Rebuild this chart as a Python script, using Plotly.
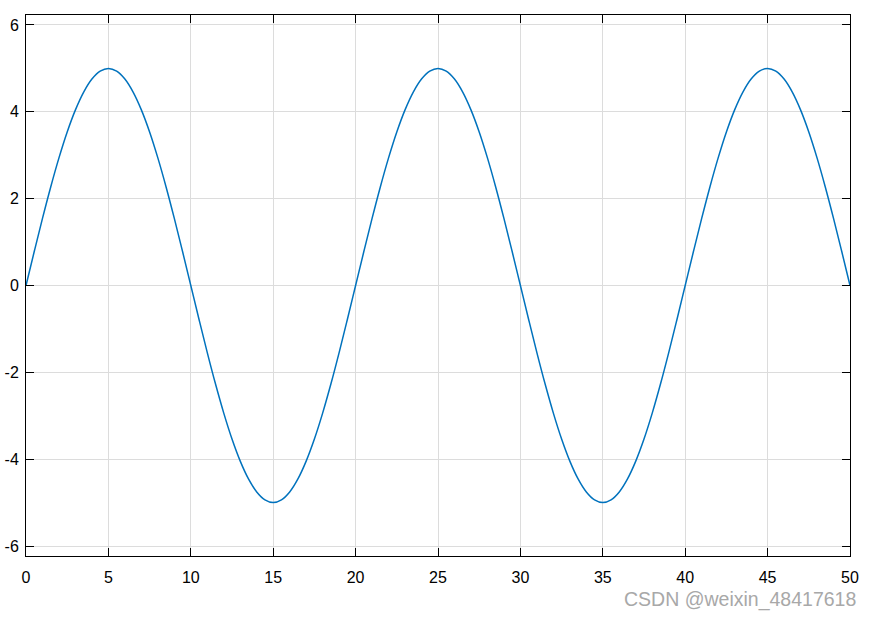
import plotly.graph_objects as go

x_values = [i * 0.5 for i in range(0, 101)]
y_values = [
    0.0, 0.782, 1.545, 2.270, 2.939, 3.536, 4.045, 4.455, 4.755, 4.938,
    5.0, 4.938, 4.755, 4.455, 4.045, 3.536, 2.939, 2.270, 1.545, 0.782,
    0.0, -0.782, -1.545, -2.270, -2.939, -3.536, -4.045, -4.455, -4.755, -4.938,
    -5.0, -4.938, -4.755, -4.455, -4.045, -3.536, -2.939, -2.270, -1.545, -0.782,
    0.0, 0.782, 1.545, 2.270, 2.939, 3.536, 4.045, 4.455, 4.755, 4.938,
    5.0, 4.938, 4.755, 4.455, 4.045, 3.536, 2.939, 2.270, 1.545, 0.782,
    0.0, -0.782, -1.545, -2.270, -2.939, -3.536, -4.045, -4.455, -4.755, -4.938,
    -5.0, -4.938, -4.755, -4.455, -4.045, -3.536, -2.939, -2.270, -1.545, -0.782,
    0.0, 0.782, 1.545, 2.270, 2.939, 3.536, 4.045, 4.455, 4.755, 4.938,
    5.0, 4.938, 4.755, 4.455, 4.045, 3.536, 2.939, 2.270, 1.545, 0.782,
    0.0,
]
x_ticks = [0, 5, 10, 15, 20, 25, 30, 35, 40, 45, 50]
y_ticks = [-6, -4, -2, 0, 2, 4, 6]
watermark = "CSDN @weixin_48417618"

fig = go.Figure()
fig.add_trace(go.Scatter(
    x=x_values, y=y_values, mode="lines",
    line=dict(color="#0072BD", width=1.5, shape="spline", smoothing=1.0),
    showlegend=False, hoverinfo="skip",
))

axis_common = dict(
    showline=True, linecolor="black", linewidth=1, mirror="allticks",
    ticks="inside", ticklen=8, tickwidth=1, tickcolor="black",
    showgrid=True, gridcolor="#dcdcdc", gridwidth=1, zeroline=False,
    automargin=False,
    tickfont=dict(family="Liberation Sans, Arial", size=16, color="black"),
)

fig.update_xaxes(range=[0, 50], tickvals=x_ticks, ticktext=[str(t) for t in x_ticks],
                 ticklabelstandoff=7, **axis_common)
fig.update_yaxes(range=[-6.23, 6.23], tickvals=y_ticks, ticktext=[str(t) for t in y_ticks],
                 ticklabelstandoff=3, **axis_common)

fig.add_annotation(
    text=watermark, xref="paper", yref="paper", x=1.0097, y=-0.0795,
    xanchor="right", yanchor="middle", showarrow=False,
    font=dict(family="Liberation Sans, Arial", size=19.5, color="#a8a8a8"),
)

fig.update_layout(
    width=874, height=619,
    margin=dict(l=26, r=24, t=15, b=63),
    plot_bgcolor="white", paper_bgcolor="white",
)

# remove the page's default 8px body margin so the figure fills the window exactly
fig.write_html("out.html", config={"displayModeBar": False},
               post_script="document.body.style.margin='0';")
